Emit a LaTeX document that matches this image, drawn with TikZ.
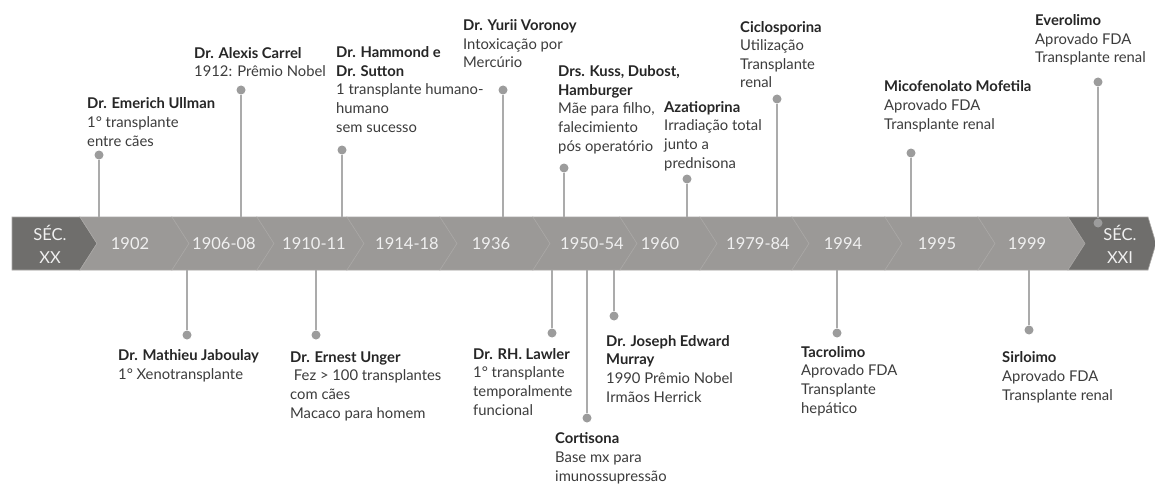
\documentclass[tikz,border=0pt]{standalone}
\usepackage{fontspec}
\setmainfont{Lato}
\usepackage{tikz}
\usetikzlibrary{positioning}
\definecolor{banddark}{HTML}{6F6E6C}
\definecolor{bandlight}{HTML}{9B9997}
\definecolor{bandedge}{HTML}{A9A7A5}
\definecolor{pingray}{HTML}{ABABAB}
\definecolor{dotgray}{HTML}{9C9C9C}
\definecolor{txtgray}{HTML}{3C3C3C}
\tikzset{
  chevron/.style={fill=bandlight,draw=bandedge,line width=0.6pt},
  century/.style={fill=banddark,draw=bandedge,line width=0.6pt},
  yearlbl/.style={text=white!94!black,font=\fontsize{16.5}{22.5}\selectfont,align=center,inner sep=0pt},
  event/.style={text=txtgray,font=\fontsize{14.8}{18.6}\selectfont,align=left,anchor=base west,inner sep=0pt},
  pindot/.style={circle,fill=dotgray,minimum size=9pt,inner sep=0pt},
  pinline/.style={draw=pingray,line width=1.4pt}
}
\newcommand{\ttl}[1]{\textbf{\color{black!85}#1}}
\begin{document}
\begin{tikzpicture}[x=1pt,y=-1pt]
	\useasboundingbox[fill=white] (0,0) rectangle (1155,484);
	% band
	\fill[century] (12,217) -- (80,217) -- (97,243.5) -- (80,270) -- (12,270) -- cycle;
	\fill[chevron] (80,217) -- (172,217) -- (189,243.5) -- (172,270) -- (80,270) -- (97,243.5) -- cycle;
	\fill[chevron] (172,217) -- (257,217) -- (274,243.5) -- (257,270) -- (172,270) -- (189,243.5) -- cycle;
	\fill[chevron] (257,217) -- (347,217) -- (364,243.5) -- (347,270) -- (257,270) -- (274,243.5) -- cycle;
	\fill[chevron] (347,217) -- (440,217) -- (457,243.5) -- (440,270) -- (347,270) -- (364,243.5) -- cycle;
	\fill[chevron] (440,217) -- (533,217) -- (550,243.5) -- (533,270) -- (440,270) -- (457,243.5) -- cycle;
	\fill[chevron] (533,217) -- (620,217) -- (637,243.5) -- (620,270) -- (533,270) -- (550,243.5) -- cycle;
	\fill[chevron] (620,217) -- (700,217) -- (717,243.5) -- (700,270) -- (620,270) -- (637,243.5) -- cycle;
	\fill[chevron] (700,217) -- (792,217) -- (809,243.5) -- (792,270) -- (700,270) -- (717,243.5) -- cycle;
	\fill[chevron] (792,217) -- (885,217) -- (902,243.5) -- (885,270) -- (792,270) -- (809,243.5) -- cycle;
	\fill[chevron] (885,217) -- (978,217) -- (995,243.5) -- (978,270) -- (885,270) -- (902,243.5) -- cycle;
	\fill[chevron] (978,217) -- (1068,217) -- (1085,243.5) -- (1068,270) -- (978,270) -- (995,243.5) -- cycle;
	\fill[century] (1068,217) -- (1148,217) -- (1156,243.5) -- (1148,270) -- (1068,270) -- (1085,243.5) -- cycle;

	\node[yearlbl] (secxx) at (50,244.5) {SÉC.\\XX};
	\node[yearlbl] (y1902) at (130,243.5) {1902};
	\node[yearlbl] (y1906) at (224,243.5) {1906-08};
	\node[yearlbl] (y1910) at (314,243.5) {1910-11};
	\node[yearlbl] (y1914) at (407,243.5) {1914-18};
	\node[yearlbl] (y1936) at (491,243.5) {1936};
	\node[yearlbl] (y1950) at (592,243.5) {1950-54};
	\node[yearlbl] (y1960) at (660,243.5) {1960};
	\node[yearlbl] (y1979) at (758,243.5) {1979-84};
	\node[yearlbl] (y1994) at (843,243.5) {1994};
	\node[yearlbl] (y1995) at (937,243.5) {1995};
	\node[yearlbl] (y1999) at (1027,243.5) {1999};
	\node[yearlbl] (secxxi) at (1120,244.5) {SÉC.\\XXI};

	% pins above
	\node[pindot] (pullman) at (99,155) {};   \coordinate (bullman) at (99,217);
	\node[pindot] (pcarrel) at (241,90) {};   \coordinate (bcarrel) at (241,217);
	\node[pindot] (phammond) at (342,150) {}; \coordinate (bhammond) at (342,217);
	\node[pindot] (pvoronoy) at (503,90) {};  \coordinate (bvoronoy) at (503,217);
	\node[pindot] (pkuss) at (564,168) {};    \coordinate (bkuss) at (564,217);
	\node[pindot] (paza) at (687,179) {};     \coordinate (baza) at (687,217);
	\node[pindot] (pciclo) at (777,99) {};    \coordinate (bciclo) at (777,217);
	\node[pindot] (pmico) at (911,153) {};    \coordinate (bmico) at (911,217);
	\node[pindot] (pevero) at (1098,82) {};
	\node[pindot] (qevero) at (1098,223) {};
	\draw[pinline] (pullman) -- (bullman);
	\draw[pinline] (pcarrel) -- (bcarrel);
	\draw[pinline] (phammond) -- (bhammond);
	\draw[pinline] (pvoronoy) -- (bvoronoy);
	\draw[pinline] (pkuss) -- (bkuss);
	\draw[pinline] (paza) -- (baza);
	\draw[pinline] (pciclo) -- (bciclo);
	\draw[pinline] (pmico) -- (bmico);
	\draw[pinline] (pevero) -- (qevero);

	% pins below
	\node[pindot] (pjaboulay) at (187,335) {}; \coordinate (bjaboulay) at (187,270);
	\node[pindot] (punger) at (316,335) {};    \coordinate (bunger) at (316,270);
	\node[pindot] (plawler) at (552,333) {};   \coordinate (blawler) at (552,270);
	\node[pindot] (pcorti) at (587,418) {};    \coordinate (bcorti) at (587,270);
	\node[pindot] (pmurray) at (614,316) {};   \coordinate (bmurray) at (614,270);
	\node[pindot] (ptacro) at (837,333) {};    \coordinate (btacro) at (837,270);
	\node[pindot] (psirlo) at (1029,330) {};   \coordinate (bsirlo) at (1029,270);
	\draw[pinline] (pjaboulay) -- (bjaboulay);
	\draw[pinline] (punger) -- (bunger);
	\draw[pinline] (plawler) -- (blawler);
	\draw[pinline] (pcorti) -- (bcorti);
	\draw[pinline] (pmurray) -- (bmurray);
	\draw[pinline] (ptacro) -- (btacro);
	\draw[pinline] (psirlo) -- (bsirlo);

	% events above (anchored on the last line)
	\node[event] (ullman) at (87,146) {\ttl{Dr. Emerich Ullman}\\1° transplante\\entre cães};
	\node[event] (carrel) at (194,77) {\ttl{Dr. Alexis Carrel}\\1912: Prêmio Nobel};
	\node[event] (hammond) at (336,132) {\ttl{Dr. Hammond e}\\\ttl{Dr. Sutton}\\1 transplante humano-\\humano\\sem sucesso};
	\node[event] (voronoy) at (463,68) {\ttl{Dr. Yurii Voronoy}\\Intoxicação por\\Mercúrio};
	\node[event] (kuss) at (558,151) {\ttl{Drs. Kuss, Dubost,}\\\ttl{Hamburger}\\Mãe para filho,\\falecimiento\\pós operatório};
	\node[event] (aza) at (664,168) {\ttl{Azatioprina}\\Irradiação total\\junto a\\prednisona};
	\node[event] (ciclo) at (740,88) {\ttl{Ciclosporina}\\Utilização\\Transplante\\renal};
	\node[event] (mico) at (884,129) {\ttl{Micofenolato Mofetila}\\Aprovado FDA\\Transplante renal};
	\node[event] (evero) at (1035,63) {\ttl{Everolimo}\\Aprovado FDA\\Transplante renal};

	% events below
	\node[event] (jaboulay) at (118,379) {\ttl{Dr. Mathieu Jaboulay}\\1° Xenotransplante};
	\node[event] (unger) at (290,418) {\ttl{Dr. Ernest Unger}\\\ Fez > 100 transplantes\\com cães\\Macaco para homem};
	\node[event] (lawler) at (473,415) {\ttl{Dr. RH. Lawler}\\1° transplante\\temporalmente\\funcional};
	\node[event] (corti) at (555,481) {\ttl{Cortisona}\\Base mx para\\imunossupressão};
	\node[event] (murray) at (606,402) {\ttl{Dr. Joseph Edward}\\\ttl{Murray}\\1990 Prêmio Nobel\\Irmãos Herrick};
	\node[event] (tacro) at (801,413) {\ttl{Tacrolimo}\\Aprovado FDA\\Transplante\\hepático};
	\node[event] (sirlo) at (1002,400) {\ttl{Sirloimo}\\Aprovado FDA\\Transplante renal};
\end{tikzpicture}
\end{document}
